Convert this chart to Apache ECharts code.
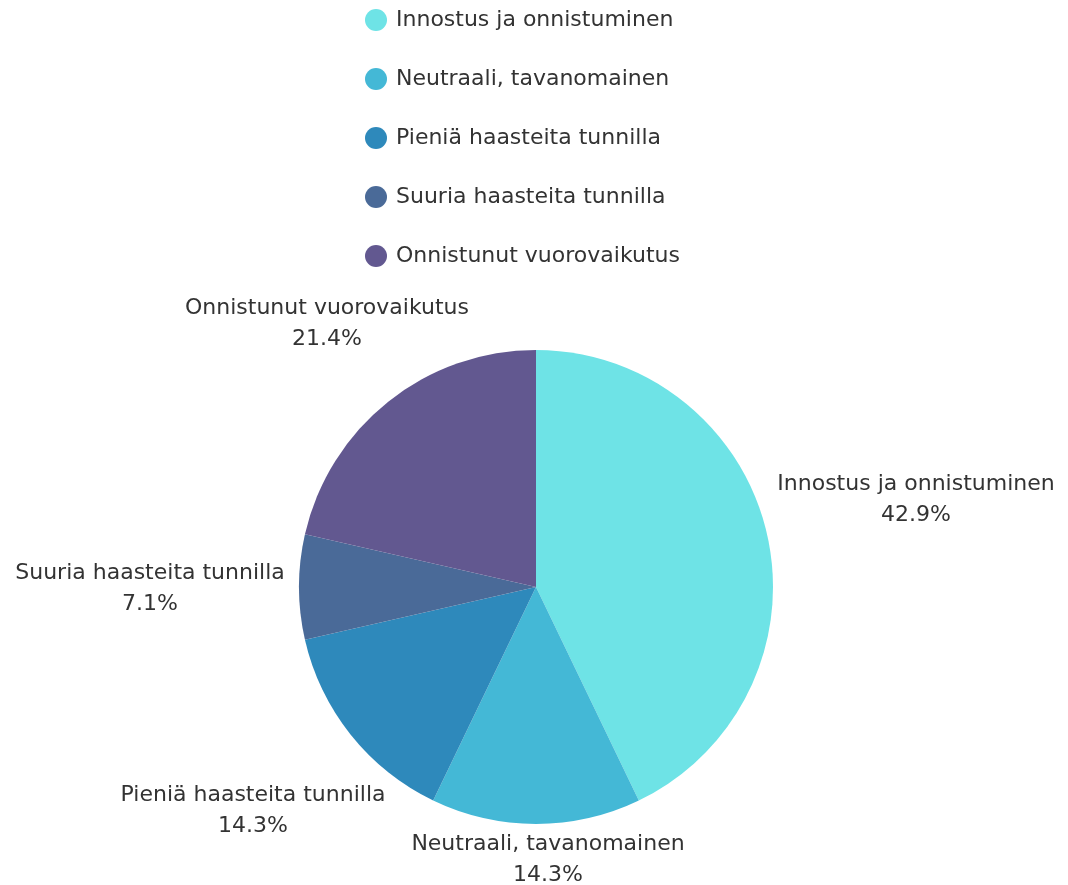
<!DOCTYPE html>
<html>
<head>
<meta charset="utf-8">
<script src="https://cdn.jsdelivr.net/npm/echarts@6/dist/echarts.min.js"></script>
<style>
  html, body { margin: 0; padding: 0; background: #fff; }
  #chart { width: 1068px; height: 885px; }
</style>
</head>
<body>
<div id="chart"></div>
<script>
var categories = ['Innostus ja onnistuminen', 'Neutraali, tavanomainen', 'Pieniä haasteita tunnilla', 'Suuria haasteita tunnilla', 'Onnistunut vuorovaikutus'];
var values = [6, 2, 2, 1, 3];
var colors = ['#6ee3e6', '#44b8d6', '#2e89bb', '#4a6a98', '#625890'];

// where each label block sits (center point)
var labelSpots = [[916, 500], [548, 860], [253, 811], [150, 589], [327, 324]];

var myChart = echarts.init(document.getElementById('chart'));

var option = {
  color: colors,
  textStyle: { fontFamily: 'DejaVu Sans' },
  legend: {
    orient: 'vertical',
    left: 360,
    top: 4,
    icon: 'circle',
    itemWidth: 22,
    itemHeight: 22,
    itemGap: 37,
    textStyle: { fontSize: 22, color: '#333', padding: [0, 0, 0, 4] },
    data: categories
  },
  series: [
    {
      type: 'pie',
      center: [536, 587],
      radius: 237,
      startAngle: 90,
      clockwise: true,
      percentPrecision: 1,
      silent: true,
      label: {
        show: true,
        position: 'outside',
        formatter: '{b}\n{d}%',
        fontSize: 22,
        lineHeight: 31,
        color: '#333',
        overflow: 'none'
      },
      labelLine: { show: false },
      labelLayout: function (params) {
        var p = labelSpots[params.dataIndex];
        return { x: p[0], y: p[1], align: 'center', verticalAlign: 'middle' };
      },
      data: categories.map(function (c, i) {
        return { name: c, value: values[i] };
      })
    }
  ]
};

myChart.setOption(option);
</script>
</body>
</html>
